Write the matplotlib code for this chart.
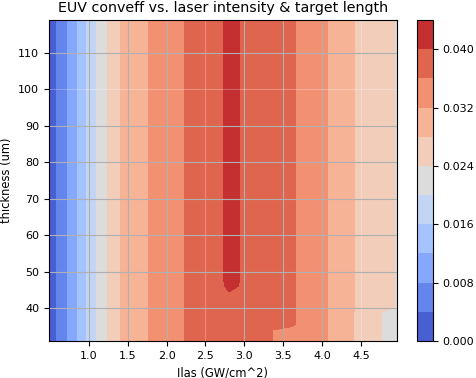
import numpy as np
import matplotlib
matplotlib.use('Agg')
import matplotlib.pyplot as plt

plt.rcParams['font.size'] = 8

# laser intensity grid (GW/cm^2) and target thickness grid (um)
ilas = [0.49, 0.6, 0.7, 0.8, 0.9, 1.0, 1.1, 1.2, 1.3, 1.4, 1.6, 1.8, 2.0,
        2.2, 2.4, 2.6, 2.8, 3.0, 3.3, 3.6, 3.9, 4.1, 4.4, 4.7, 4.96]
thickness = [31, 34, 35.5, 39, 40, 44, 46, 48, 119]

# conversion efficiency along ilas for a few thicknesses
eff_base = [0.0018, 0.0046, 0.0071, 0.0104, 0.0141, 0.0173, 0.0201, 0.0229,
            0.0255, 0.0279, 0.0302, 0.0323, 0.0341, 0.0358, 0.0374, 0.0390,
            0.0405, 0.0398, 0.0383, 0.0365, 0.0336, 0.0317, 0.0281, 0.0259,
            0.0237]
eff_t46 = [0.0018, 0.0046, 0.0071, 0.0104, 0.0141, 0.0173, 0.0201, 0.0229,
           0.0255, 0.0279, 0.0302, 0.0323, 0.0341, 0.0358, 0.0374, 0.0392,
           0.0403, 0.0398, 0.0383, 0.0365, 0.0336, 0.0317, 0.0281, 0.0259,
           0.0237]
eff_t44 = [0.0018, 0.0046, 0.0071, 0.0104, 0.0141, 0.0173, 0.0201, 0.0229,
           0.0255, 0.0279, 0.0302, 0.0323, 0.0341, 0.0358, 0.0374, 0.0390,
           0.0399, 0.0396, 0.0383, 0.0365, 0.0336, 0.0317, 0.0281, 0.0259,
           0.0237]
eff_t39 = [0.0018, 0.0046, 0.0071, 0.0104, 0.0141, 0.0173, 0.0201, 0.0229,
           0.0255, 0.0279, 0.0302, 0.0323, 0.0341, 0.0358, 0.0374, 0.0390,
           0.0399, 0.0396, 0.0383, 0.0365, 0.0336, 0.0317, 0.0281, 0.0242,
           0.0233]
eff_t34 = [0.0018, 0.0046, 0.0071, 0.0104, 0.0141, 0.0173, 0.0201, 0.0229,
           0.0255, 0.0279, 0.0302, 0.0323, 0.0341, 0.0358, 0.0374, 0.0390,
           0.0399, 0.0392, 0.0362, 0.0352, 0.0336, 0.0317, 0.0281, 0.0242,
           0.0233]

Z = np.array([eff_t34, eff_t34, eff_t39, eff_t39, eff_t44, eff_t44,
              eff_t46, eff_base, eff_base])
X, Y = np.meshgrid(ilas, thickness)

levels = np.arange(0, 0.0441, 0.004)
xticks = [1.0, 1.5, 2.0, 2.5, 3.0, 3.5, 4.0, 4.5]
yticks = [40, 50, 60, 70, 80, 90, 100, 110]
faint_x = [2.5, 4.5]
faint_y = [100]

fig = plt.figure(figsize=(4.76, 3.78), dpi=100)
ax = fig.add_axes([49/476, 37/378, 348/476, 321/378])
cax = fig.add_axes([417/476, 37/378, 16/476, 321/378])

cf = ax.contourf(X, Y, Z, levels=levels, cmap='coolwarm')
cb = fig.colorbar(cf, cax=cax)
cb.set_ticks([0.0, 0.008, 0.016, 0.024, 0.032, 0.040])
cb.ax.set_yticklabels(['0.000', '0.008', '0.016', '0.024', '0.032', '0.040'])

ax.set_xticks(xticks)
ax.set_yticks(yticks)

# grid drawn by hand: a few lines come out almost white in the original
for t in xticks:
    if t in faint_x:
        ax.axvline(t, color='white', lw=0.8, alpha=0.25, zorder=2)
    else:
        ax.axvline(t, color='#b0b0b0', lw=0.8, zorder=2)
for t in yticks:
    if t in faint_y:
        ax.axhline(t, color='white', lw=0.8, alpha=0.25, zorder=2)
    else:
        ax.axhline(t, color='#b0b0b0', lw=0.8, zorder=2)

ax.set_title('EUV conveff vs. laser intensity & target length', fontsize=10.3)
ax.set_xlabel('Ilas (GW/cm^2)', fontsize=8.3)
ax.set_ylabel('thickness (um)', fontsize=8.3)

fig.canvas.draw()
for tk in ax.xaxis.get_major_ticks():
    if tk.get_loc() in faint_x:
        tk.tick1line.set_color('#e8e8e8')
for tk in ax.yaxis.get_major_ticks():
    if tk.get_loc() in faint_y:
        tk.tick1line.set_color('#e8e8e8')

fig.savefig('out.png', dpi=100)
